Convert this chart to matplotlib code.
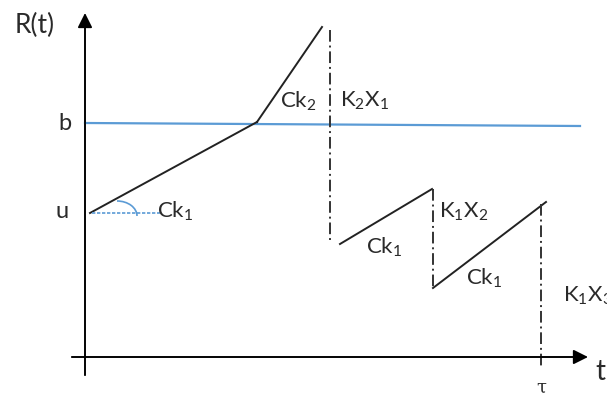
import matplotlib.pyplot as plt
from matplotlib.patches import Arc

plt.rcParams['font.family'] = ['Lato', 'DejaVu Sans']

# levels (pixel-like units, origin at the axes crossing)
u, b = 144, 234
b_end = 231
t_end = 495

# surplus path pieces: (t0, t1, R0, R1)
rising = [(5, 172, 144, 235), (172, 237, 235, 330),
          (255, 347, 113, 168), (348, 461, 69, 155)]
# claim jumps drawn as dash-dot verticals: (t, R_top, R_bottom)
jumps = [(245, 327, 115), (348, 168, 70), (456, 153, -11)]
tau = 456

labels = [("Ck_1", 72, 146), ("Ck_2", 195, 256), ("K_2X_1", 255, 256),
          ("Ck_1", 281, 110), ("K_1X_2", 354, 145),
          ("Ck_1", 381, 79), ("K_1X_3", 478, 61)]

fig = plt.figure(figsize=(6.07, 3.96), dpi=100)
ax = fig.add_axes([0, 0, 1, 1])
ax.set_xlim(-85, 522)
ax.set_ylim(-39, 357)
ax.axis('off')

axis_col = '#555555'
ax.annotate('', xy=(0, 344), xytext=(0, -18),
            arrowprops=dict(arrowstyle='-|>', color='black', lw=1.3,
                            mutation_scale=22, shrinkA=0, shrinkB=0))
ax.plot([0, 0], [-18, 330], color=axis_col, lw=1.3)
ax.annotate('', xy=(503, 0), xytext=(-13, 0),
            arrowprops=dict(arrowstyle='-|>', color='black', lw=1.3,
                            mutation_scale=22, shrinkA=0, shrinkB=0))
ax.plot([-13, 490], [0, 0], color=axis_col, lw=1.3)

ax.plot([0, t_end], [b, b_end], color='#5b9bd5', lw=1.6)

for t0, t1, r0, r1 in rising:
    ax.plot([t0, t1], [r0, r1], color='#222222', lw=1.4)
for t, top, bot in jumps:
    ax.plot([t, t], [top, bot], color='#333333', lw=1.4,
            linestyle=(0, (6, 2, 1, 2)))

# angle marker at start
ax.plot([7, 75], [u, u], color='#5b9bd5', lw=1.2, linestyle=(0, (2, 1)))
ax.add_patch(Arc((32, u - 3), 40, 30, theta1=0, theta2=90,
                 color='#5b9bd5', lw=1.2))

fs = 16
tc = '#2a2a2a'
for txt, x, y in labels:
    ax.text(x, y, r"$\mathregular{" + txt + "}$",
            fontsize=fs, ha='left', va='center', color=tc)

ax.text(-50, 332, "R(t)", fontsize=19, ha='center', va='center', color=tc)
ax.text(-20, 234, "b", fontsize=17, ha='center', va='center', color=tc)
ax.text(-23, 146, "u", fontsize=17, ha='center', va='center', color=tc)
ax.text(515, -15, "t", fontsize=20, ha='center', va='center', color=tc)
ax.text(tau, -31, "τ", fontsize=13, ha='center', va='center', color=tc,
        family=['DejaVu Serif'])

fig.savefig('out.png', dpi=100)
